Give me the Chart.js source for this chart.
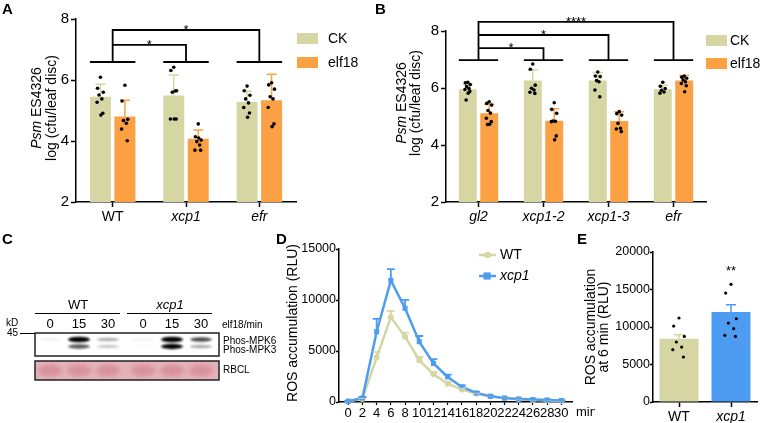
<!DOCTYPE html>
<html>
<head>
<meta charset="utf-8">
<script src="https://cdn.jsdelivr.net/npm/chart.js@4.4.1/dist/chart.umd.min.js"></script>
<style>
  body { margin: 0; background: #fff; }
  #wrap { position: relative; width: 760px; height: 423px; overflow: hidden; background: #fff; }
  #wrap canvas { position: absolute; }
</style>
</head>
<body>
<div id="wrap">
  <canvas id="blot" width="760" height="423" style="left:0;top:0"></canvas>
</div>
<script>
// ---- data: panel A ----
const groupsA = ['WT', 'xcp1', 'efr'];
const ckMeanA = [5.45, 5.49, 5.28];
const ckSdA = [0.41, 0.67, 0.35];
const elfMeanA = [4.80, 4.07, 5.34];
const elfSdA = [0.54, 0.29, 0.85];
const ckDotsA = [
    [6.09, 5.73, 5.60, 5.51, 5.38, 5.27, 4.91, 4.85],
    [6.42, 6.31, 5.65, 5.60, 5.64, 4.72, 4.72, 4.72],
    [5.80, 5.65, 5.50, 5.38, 5.25, 5.10, 4.92, 4.78]
];
const elfDotsA = [
    [5.83, 5.31, 4.71, 4.67, 4.58, 4.39, 4.01],
    [4.56, 4.14, 4.03, 3.98, 3.87, 3.70, 3.70, 4.10],
    [5.91, 5.84, 5.70, 5.45, 5.38, 5.10, 4.56, 4.47]
];
const sigA = [[0, 1, '*'], [0, 2, '*']];

// ---- data: panel B ----
const groupsB = ['gl2', 'xcp1-2', 'xcp1-3', 'efr'];
const ckMeanB = [5.96, 6.26, 6.26, 5.96];
const ckSdB = [0.16, 0.37, 0.28, 0.14];
const elfMeanB = [5.11, 4.85, 4.84, 6.26];
const elfSdB = [0.32, 0.42, 0.33, 0.18];
const ckDotsB = [
    [6.20, 6.18, 6.12, 6.05, 5.98, 5.95, 5.88, 5.82, 5.58],
    [6.84, 6.66, 6.10, 5.99, 5.93, 5.85, 5.81],
    [6.56, 6.42, 6.40, 6.26, 6.22, 5.93, 5.69],
    [6.20, 6.06, 5.98, 5.92, 5.86, 5.82]
];
const elfDotsB = [
    [5.52, 5.46, 5.40, 5.21, 5.12, 4.94, 4.82, 4.73, 4.72],
    [5.48, 5.25, 5.11, 4.84, 4.83, 4.82, 4.32, 4.18],
    [5.17, 5.10, 5.05, 4.76, 4.59, 4.56, 4.47],
    [6.42, 6.38, 6.34, 6.28, 6.22, 6.16, 6.08, 5.87]
];
const sigB = [[0, 1, '*'], [0, 2, '*'], [0, 3, '****']];

// ---- data: panel C (relative band strength per lane) ----
const blotGroups = ['WT', 'xcp1'];
const laneTimes = ['0', '15', '30', '0', '15', '30'];
const mpk6Band = [0.06, 1.0, 0.30, 0.05, 1.0, 0.65];
const mpk3Band = [0.0, 0.60, 0.22, 0.02, 0.90, 0.30];

// ---- data: panel D ----
const timeMin = [0, 2, 4, 6, 8, 10, 12, 14, 16, 18, 20, 22, 24, 26, 28, 30];
const wtRos = [80, 300, 4370, 8300, 6400, 4100, 2720, 1800, 1215, 820, 560, 380, 280, 200, 150, 110];
const wtRosErr = [40, 80, 550, 630, 400, 330, 200, 150, 100, 80, 60, 50, 40, 30, 30, 20];
const xcpRos = [70, 390, 6890, 11920, 9190, 5910, 3775, 2460, 1480, 890, 560, 380, 300, 240, 190, 150];
const xcpRosErr = [40, 100, 1250, 1110, 820, 560, 425, 230, 150, 100, 70, 50, 40, 30, 30, 20];

// ---- data: panel E ----
const groupsE = ['WT', 'xcp1'];
const rosMeanE = [8440, 12000];
const rosSdE = [540, 980];
const rosDotsE = [
    [11200, 10130, 8750, 8000, 7330, 6980, 6000],
    [15690, 14530, 11100, 10530, 9780, 8890, 8750]
];

const FONT = 'Arial, "Liberation Sans", Helvetica, sans-serif';
const OLIVE = '#d5d6a3';
const ORANGE = '#fba144';
const BLUE = '#4d9cf2';
const jitter = [0, -3, 3, -1.5, 1.5, -3.5, 2.5, 0.5, -2];

function makeCanvas(id, left, top, w, h) {
    const c = document.createElement('canvas');
    c.id = id;
    c.width = w;
    c.height = h;
    c.style.left = left + 'px';
    c.style.top = top + 'px';
    document.getElementById('wrap').appendChild(c);
    return c;
}

// text made of [string, italic] parts, centred on (cx, cy)
function mixedText(ctx, parts, cx, cy, size, align) {
    ctx.textBaseline = 'middle';
    ctx.textAlign = 'left';
    let total = 0;
    parts.forEach(p => {
        ctx.font = (p[1] ? 'italic ' : '') + size + 'px ' + FONT;
        total += ctx.measureText(p[0]).width;
    });
    let x = align === 'left' ? cx : cx - total / 2;
    parts.forEach(p => {
        ctx.font = (p[1] ? 'italic ' : '') + size + 'px ' + FONT;
        ctx.fillText(p[0], x, cy);
        x += ctx.measureText(p[0]).width;
    });
}

function vTitle(ctx, cx, cy, parts, size) {
    ctx.save();
    ctx.translate(cx, cy);
    ctx.rotate(-Math.PI / 2);
    ctx.fillStyle = '#000';
    mixedText(ctx, parts, 0, 0, size);
    ctx.restore();
}

function yAxis(min, max, step, width, size, tickLen, pad) {
    return {
        min: min,
        max: max,
        ticks: { stepSize: step, color: '#000', padding: pad, font: { family: FONT, size: size }, callback: v => String(v) },
        grid: { display: true, drawOnChartArea: false, tickLength: tickLen, tickWidth: 1.5, tickColor: '#000' },
        border: { display: true, color: '#000', width: 1.5 },
        afterFit(s) { s.width = width; }
    };
}

function catAxis(height, size, italicFn) {
    return {
        z: 1,
        ticks: {
            color: '#000', padding: 2, maxRotation: 0, autoSkip: false,
            font: c => ({ family: FONT, size: size, style: italicFn(c.index) ? 'italic' : 'normal' })
        },
        grid: { display: true, offset: false, drawOnChartArea: false, tickLength: 5, tickWidth: 1.5, tickColor: '#000' },
        border: { display: true, color: '#000', width: 1.5 },
        afterFit(s) { s.height = height; }
    };
}

// error bars (upper only) and individual points on top of bars
function barExtras(sds, dots, errColors, dotR) {
    return {
        id: 'barExtras',
        afterDatasetsDraw(chart) {
            const ctx = chart.ctx;
            const y = chart.scales.y;
            sds.forEach((sd, d) => {
                const meta = chart.getDatasetMeta(d);
                meta.data.forEach((bar, i) => {
                    const top = y.getPixelForValue(chart.data.datasets[d].data[i] + sd[i]);
                    ctx.save();
                    ctx.strokeStyle = errColors[d][i];
                    ctx.lineWidth = 1.5;
                    ctx.beginPath();
                    ctx.moveTo(bar.x, bar.y);
                    ctx.lineTo(bar.x, top);
                    ctx.moveTo(bar.x - 5, top);
                    ctx.lineTo(bar.x + 5, top);
                    ctx.stroke();
                    ctx.fillStyle = '#000';
                    const sc = bar.width / 22;
                    dots[d][i].forEach((v, j) => {
                        ctx.beginPath();
                        ctx.arc(bar.x + jitter[j % jitter.length] * sc, y.getPixelForValue(v), dotR, 0, Math.PI * 2);
                        ctx.fill();
                    });
                    ctx.restore();
                });
            });
        }
    };
}

// significance brackets
function brackets(sig, baseVal, levels, starSize) {
    return {
        id: 'brackets',
        afterDraw(chart) {
            const ctx = chart.ctx;
            const x = chart.scales.x, y = chart.scales.y;
            const m0 = chart.getDatasetMeta(0), m1 = chart.getDatasetMeta(1);
            const base = y.getPixelForValue(baseVal);
            ctx.save();
            ctx.strokeStyle = '#000';
            ctx.lineWidth = 1.8;
            ctx.beginPath();
            m0.data.forEach((b, i) => {
                const b2 = m1.data[i];
                ctx.moveTo(b.x - b.width / 2, base);
                ctx.lineTo(b2.x + b2.width / 2, base);
            });
            sig.forEach((s, k) => {
                const x1 = x.getPixelForValue(s[0]);
                const x2 = x.getPixelForValue(s[1]);
                const lv = y.getPixelForValue(levels[k]);
                ctx.moveTo(x1, base);
                ctx.lineTo(x1, lv);
                ctx.lineTo(x2, lv);
                ctx.lineTo(x2, base);
            });
            ctx.stroke();
            ctx.fillStyle = '#000';
            ctx.textAlign = 'center';
            ctx.textBaseline = 'alphabetic';
            ctx.font = starSize + 'px ' + FONT;
            sig.forEach((s, k) => {
                const x1 = x.getPixelForValue(s[0]);
                const x2 = x.getPixelForValue(s[1]);
                const lv = y.getPixelForValue(levels[k]);
                ctx.fillText(s[2], (x1 + x2) / 2, lv + 4);
            });
            ctx.restore();
        }
    };
}

function boxLegend(items, bx, by, tx, gap, size) {
    return {
        id: 'boxLegend',
        afterDraw(chart) {
            const ctx = chart.ctx;
            ctx.save();
            items.forEach((it, k) => {
                ctx.fillStyle = it[1];
                ctx.fillRect(bx, by + k * gap, 21, 11);
                ctx.fillStyle = '#000';
                mixedText(ctx, [[it[0], false]], tx, by + k * gap + 6, size, 'left');
            });
            ctx.restore();
        }
    };
}

function titlePlugin(lines) {
    return {
        id: 'vtitles',
        afterDraw(chart) {
            lines.forEach(l => vTitle(chart.ctx, l[0], l[1], l[2], l[3]));
        }
    };
}

const common = {
    responsive: false,
    animation: false,
    plugins: { legend: { display: false }, tooltip: { enabled: false } }
};

// ---------- Panel A ----------
const cA = makeCanvas('chartA', 0, 0, 375, 230);
new Chart(cA, {
    type: 'bar',
    data: {
        labels: groupsA,
        datasets: [
            { label: 'CK', data: ckMeanA, backgroundColor: OLIVE, categoryPercentage: 0.668, barPercentage: 0.857 },
            { label: 'elf18', data: elfMeanA, backgroundColor: ORANGE, categoryPercentage: 0.668, barPercentage: 0.857 }
        ]
    },
    options: {
        ...common,
        layout: { padding: { top: 19, right: 79, left: 0, bottom: 0 } },
        scales: {
            x: catAxis(28, 14, i => i > 0),
            y: yAxis(2, 8, 2, 76, 15, 5, 2)
        }
    },
    plugins: [
        barExtras([ckSdA, elfSdA], [ckDotsA, elfDotsA], [[OLIVE, OLIVE, OLIVE], [ORANGE, ORANGE, ORANGE]], 1.8),
        brackets(sigA, 6.59, [7.15, 7.64], 13),
        boxLegend([['CK', OLIVE], ['elf18', ORANGE]], 297, 33, 328, 24, 14),
        titlePlugin([
            [37, 108, [['Psm', true], [' ES4326', false]], 14],
            [52, 108, [['log (cfu/leaf disc)', false]], 14]
        ])
    ]
});

// ---------- Panel B ----------
const cB = makeCanvas('chartB', 380, 0, 380, 230);
new Chart(cB, {
    type: 'bar',
    data: {
        labels: groupsB,
        datasets: [
            { label: 'CK', data: ckMeanB, backgroundColor: OLIVE, categoryPercentage: 0.66, barPercentage: 0.837 },
            { label: 'elf18', data: elfMeanB, backgroundColor: ORANGE, categoryPercentage: 0.66, barPercentage: 0.837 }
        ]
    },
    options: {
        ...common,
        layout: { padding: { top: 31, right: 54, left: 0, bottom: 0 } },
        scales: {
            x: catAxis(28, 14, () => true),
            y: yAxis(2, 8, 2, 66, 15, 5, 2)
        }
    },
    plugins: [
        barExtras([ckSdB, elfSdB], [ckDotsB, elfDotsB], [[OLIVE, OLIVE, OLIVE, OLIVE], [ORANGE, ORANGE, ORANGE, ORANGE]], 1.8),
        brackets(sigB, 6.98, [7.40, 7.86, 8.32], 13),
        boxLegend([['CK', OLIVE], ['elf18', ORANGE]], 326, 35, 350, 23, 14),
        titlePlugin([
            [22, 103, [['Psm', true], [' ES4326', false]], 14],
            [36, 103, [['log (cfu/leaf disc)', false]], 14]
        ])
    ]
});

// ---------- Panel D ----------
const cD = makeCanvas('chartD', 250, 230, 345, 193);
new Chart(cD, {
    type: 'line',
    data: {
        datasets: [
            {
                label: 'WT', data: timeMin.map((t, i) => ({ x: t, y: wtRos[i] })),
                borderColor: OLIVE, backgroundColor: OLIVE, borderWidth: 2.5,
                pointStyle: 'circle', pointRadius: 3, pointBorderWidth: 0, tension: 0, clip: false, order: 1
            },
            {
                label: 'xcp1', data: timeMin.map((t, i) => ({ x: t, y: xcpRos[i] })),
                borderColor: BLUE, backgroundColor: BLUE, borderWidth: 2.5,
                pointStyle: 'rect', pointRadius: 3.6, pointBorderWidth: 0, tension: 0, clip: false, order: 0
            }
        ]
    },
    options: {
        ...common,
        layout: { padding: { top: 19, right: 23, left: 0, bottom: 0 } },
        scales: {
            x: {
                type: 'linear', min: -1.3, max: 31.5,
                ticks: { stepSize: 2, autoSkip: false, maxRotation: 0, includeBounds: false, color: '#000', padding: 1, font: { family: FONT, size: 13 } },
                grid: { display: true, drawOnChartArea: false, tickLength: 3, tickWidth: 1.2, tickColor: '#000' },
                border: { display: true, color: '#000', width: 1.5 },
                afterFit(s) { s.height = 21; }
            },
            y: yAxis(0, 15000, 5000, 89, 12.5, 3, 0)
        }
    },
    plugins: [
        {
            id: 'rosErr',
            afterDatasetsDraw(chart) {
                const ctx = chart.ctx, y = chart.scales.y;
                const errs = [wtRosErr, xcpRosErr];
                const cols = [OLIVE, BLUE];
                [0, 1].forEach(d => {
                    chart.getDatasetMeta(d).data.forEach((p, i) => {
                        const top = y.getPixelForValue(chart.data.datasets[d].data[i].y + errs[d][i]);
                        ctx.save();
                        ctx.strokeStyle = cols[d];
                        ctx.lineWidth = 1.8;
                        ctx.beginPath();
                        ctx.moveTo(p.x, p.y);
                        ctx.lineTo(p.x, top);
                        ctx.moveTo(p.x - 4, top);
                        ctx.lineTo(p.x + 4, top);
                        ctx.stroke();
                        ctx.restore();
                    });
                });
            },
            afterDraw(chart) {
                const ctx = chart.ctx, x = chart.scales.x;
                ctx.save();
                ctx.fillStyle = '#000';
                mixedText(ctx, [['min', false]], x.right + 4, 182, 13, 'left');
                // legend
                const rows = [['WT', false, OLIVE, 'circle'], ['xcp1', true, BLUE, 'rect']];
                rows.forEach((r, k) => {
                    const yy = 25 + k * 21;
                    ctx.strokeStyle = r[2];
                    ctx.lineWidth = 2.5;
                    ctx.beginPath();
                    ctx.moveTo(229, yy);
                    ctx.lineTo(246, yy);
                    ctx.stroke();
                    ctx.fillStyle = r[2];
                    if (r[3] === 'circle') {
                        ctx.beginPath();
                        ctx.arc(237.5, yy, 3.2, 0, Math.PI * 2);
                        ctx.fill();
                    } else {
                        ctx.fillRect(233.5, yy - 3.6, 7.2, 7.2);
                    }
                    ctx.fillStyle = '#000';
                    mixedText(ctx, [[r[0], r[1]]], 250, yy, 14, 'left');
                });
                ctx.restore();
                vTitle(ctx, 43, 93, [['ROS accumulation (RLU)', false]], 14);
            }
        }
    ]
});

// ---------- Panel E ----------
const cE = makeCanvas('chartE', 540, 230, 220, 193);
new Chart(cE, {
    type: 'bar',
    data: {
        labels: groupsE,
        datasets: [
            { label: 'ROS', data: rosMeanE, backgroundColor: [OLIVE, BLUE], categoryPercentage: 1.0, barPercentage: 0.75 }
        ]
    },
    options: {
        ...common,
        layout: { padding: { top: 22, right: 3, left: 0, bottom: 0 } },
        scales: {
            x: catAxis(21, 14, i => i === 1),
            y: yAxis(0, 20000, 5000, 113, 12.5, 3, 0)
        }
    },
    plugins: [
        barExtras([rosSdE], [rosDotsE], [[OLIVE, BLUE]], 1.6),
        {
            id: 'starsE',
            afterDraw(chart) {
                const ctx = chart.ctx;
                const bar = chart.getDatasetMeta(0).data[1];
                ctx.save();
                ctx.fillStyle = '#000';
                ctx.textAlign = 'center';
                ctx.font = '13px ' + FONT;
                ctx.fillText('**', bar.x, chart.scales.y.getPixelForValue(16900));
                ctx.restore();
                vTitle(ctx, 51, 97, [['ROS accumulation', false]], 14);
                vTitle(ctx, 64, 97, [['at 6 min (RLU)', false]], 14);
            }
        }
    ]
});

// ---------- Panel C (blot) and panel letters ----------
function drawBlot() {
    const ctx = document.getElementById('blot').getContext('2d');
    ctx.fillStyle = '#000';
    ctx.textBaseline = 'alphabetic';
    ctx.textAlign = 'left';
    ctx.font = 'bold 15px ' + FONT;
    ctx.fillText('A', 2, 14);
    ctx.fillText('B', 375, 14);
    ctx.fillText('C', 2, 244);
    ctx.fillText('D', 276, 244);
    ctx.fillText('E', 577, 244);

    const boxL = 35, boxR = 219;
    const laneX = i => boxL + 15 + i * 29 + (i >= 3 ? 6 : 0);

    // group headers
    ctx.fillStyle = '#000';
    mixedText(ctx, [[blotGroups[0], false]], 78, 305, 13);
    mixedText(ctx, [[blotGroups[1], true]], 170, 305, 13);
    ctx.strokeStyle = '#000';
    ctx.lineWidth = 1;
    ctx.beginPath();
    ctx.moveTo(35, 313.5); ctx.lineTo(120, 313.5);
    ctx.moveTo(127, 313.5); ctx.lineTo(212, 313.5);
    ctx.stroke();
    laneTimes.forEach((t, i) => mixedText(ctx, [[t, false]], laneX(i), 324, 13));
    mixedText(ctx, [['elf18/min', false]], 222, 325, 10, 'left');
    mixedText(ctx, [['kD', false]], 6, 323, 10, 'left');
    mixedText(ctx, [['45', false]], 7, 333, 10, 'left');
    ctx.beginPath();
    ctx.moveTo(20, 333.5); ctx.lineTo(35, 333.5);
    ctx.stroke();

    // phospho blot
    const top1 = 333, bot1 = 356;
    ctx.save();
    ctx.beginPath();
    ctx.rect(boxL, top1, boxR - boxL, bot1 - top1);
    ctx.clip();
    ctx.fillStyle = '#fff';
    ctx.fillRect(boxL, top1, boxR - boxL, bot1 - top1);
    ctx.filter = 'blur(1.3px)';
    laneTimes.forEach((t, i) => {
        [[mpk6Band[i], 339.5], [mpk3Band[i], 346.5]].forEach(b => {
            if (b[0] <= 0) return;
            ctx.fillStyle = 'rgba(0,0,0,' + Math.min(1, b[0] * 1.1) + ')';
            ctx.beginPath();
            ctx.ellipse(laneX(i), b[1], 11, 1.2 + 1.6 * b[0], 0, 0, Math.PI * 2);
            ctx.fill();
        });
    });
    ctx.restore();
    ctx.strokeStyle = '#222';
    ctx.lineWidth = 1.5;
    ctx.strokeRect(boxL, top1, boxR - boxL, bot1 - top1);
    ctx.fillStyle = '#000';
    mixedText(ctx, [['Phos-MPK6', false]], 223, 341, 10, 'left');
    mixedText(ctx, [['Phos-MPK3', false]], 223, 350, 10, 'left');

    // RBCL stain
    const top2 = 361, bot2 = 380;
    ctx.save();
    ctx.beginPath();
    ctx.rect(boxL, top2, boxR - boxL, bot2 - top2);
    ctx.clip();
    ctx.fillStyle = '#e4b3ba';
    ctx.fillRect(boxL, top2, boxR - boxL, bot2 - top2);
    ctx.filter = 'blur(2px)';
    laneTimes.forEach((t, i) => {
        ctx.fillStyle = 'rgba(205,120,135,0.55)';
        ctx.beginPath();
        ctx.ellipse(laneX(i), 370.5, 12, 6, 0, 0, Math.PI * 2);
        ctx.fill();
    });
    ctx.restore();
    ctx.strokeStyle = '#222';
    ctx.strokeRect(boxL, top2, boxR - boxL, bot2 - top2);
    ctx.fillStyle = '#000';
    mixedText(ctx, [['RBCL', false]], 223, 370, 10, 'left');
}
drawBlot();
</script>
</body>
</html>
